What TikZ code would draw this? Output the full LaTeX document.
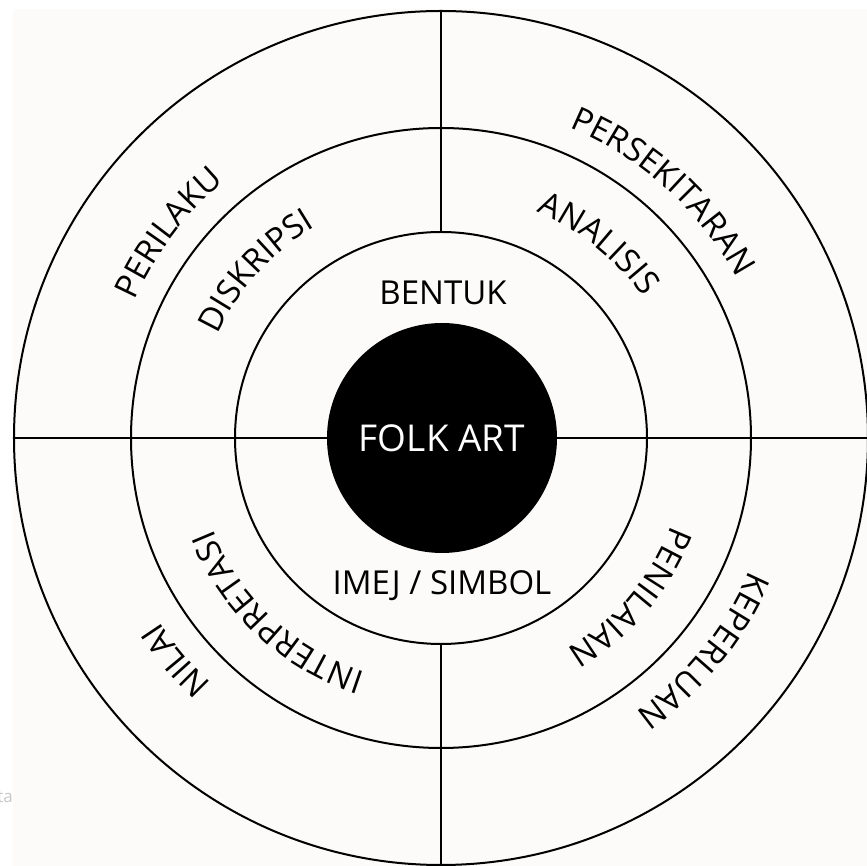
\documentclass[tikz,border=0pt]{standalone}
\usepackage{fontspec}
\setmainfont{Open Sans}
\usetikzlibrary{decorations.text}
\definecolor{PanelWhite}{HTML}{FCFBF9}
\definecolor{MarkGray}{HTML}{C8C8C8}
\newcommand{\ringfont}{\fontsize{33}{33}\selectfont}
\newcommand{\corefont}{\fontsize{37}{37}\selectfont}
\tikzset{
    % Concentric rings
    ring/.style={
        circle,
        draw=black,
        line width=2pt,
        inner sep=0pt
    },
    core/.style={
        circle,
        fill=black,
        text=white,
        inner sep=0pt,
        minimum size=230pt,
        font=\corefont
    },
    divider/.style={
        line width=2pt,
        color=black
    },
    flat label/.style={
        anchor=base,
        inner sep=0pt,
        font=\ringfont
    },
    arc label/.style={
        decorate,
        decoration={text along path, text align=center, text={|\ringfont|#1}}
    }
}

\begin{document}
\begin{tikzpicture}[x=1pt, y=1pt]
        % Page and panel
        \useasboundingbox (-441,-428) rectangle (426,438);
        \fill[white] (-441,-428) rectangle (426,438);
        \fill[PanelWhite] (-428,-428) rectangle (426,429);
        \node[anchor=base east, inner sep=0pt, text=MarkGray, font=\fontsize{17}{17}\selectfont] (mark) at (-428,-364) {ta};

        % Rings
        \node[ring, minimum size=854pt] (outer) at (0,0) {};
        \node[ring, minimum size=620pt] (middle) at (0,0) {};
        \node[ring, minimum size=412pt] (inner) at (0,0) {};

        % Dividers
        \draw[divider] (outer.west) -- (outer.east);
        \draw[divider] (outer.north) -- (inner.north);
        \draw[divider] (inner.south) -- (outer.south);

        % Centre
        \node[core] (folk) at (1,0) {FOLK ART};
        \node[flat label] (bentuk) at (2,133) {BENTUK};
        \node[flat label] (imej) at (1,-157) {IMEJ / SIMBOL};

        % Outer ring labels
        \path[arc label=PERILAKU] (203:336) arc[start angle=203, end angle=83, radius=336];
        \path[arc label=PERSEKITARAN] (108:336) arc[start angle=108, end angle=-12, radius=336];
        \path[arc label=NILAI] (280:336) arc[start angle=280, end angle=160, radius=336];
        \path[arc label=KEPERLUAN] (21:336) arc[start angle=21, end angle=-99, radius=336];

        % Middle ring labels
        \path[arc label=DISKRIPSI] (198:246) arc[start angle=198, end angle=78, radius=246];
        \path[arc label=ANALISIS] (111:246) arc[start angle=111, end angle=-9, radius=246];
        \path[arc label=INTERPRETASI] (287:246) arc[start angle=287, end angle=167, radius=246];
        \path[arc label=PENILAIAN] (20:246) arc[start angle=20, end angle=-100, radius=246];
\end{tikzpicture}
\end{document}
